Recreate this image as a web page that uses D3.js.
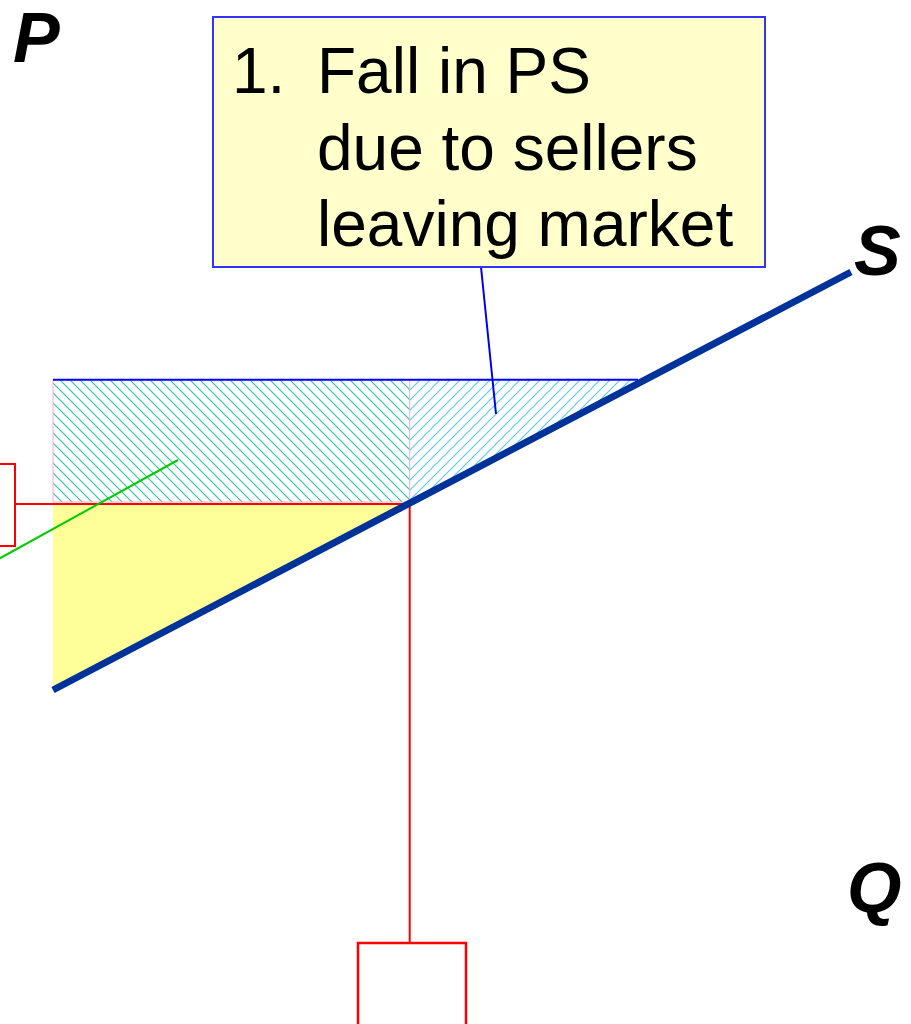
<!DOCTYPE html>
<html>
<head>
<meta charset="utf-8">
<script src="https://cdn.jsdelivr.net/npm/d3@7"></script>
<style>
  body { margin: 0; background: #fff; }
  svg { display: block; }
</style>
</head>
<body>
<div id="chart"></div>
<script>
// supply curve, price levels and quantity (chart units)
const supplyQ = [0, 10];
const supplyP = [0, 10];
const oldPrice = 7.42;
const newPrice = 4.45;
const newQty = 4.47;
const calloutLines = ["Fall in PS", "due to sellers", "leaving market"];
const calloutNumber = "1.";
const axisLabels = {p: "P", q: "Q", s: "S"};

const width = 911, height = 1024;

const svg = d3.select("#chart")
    .append("svg")
    .attr("width", width)
    .attr("height", height);

// scales
const x = d3.scaleLinear().domain([0, 10]).range([53, 851]);
const y = d3.scaleLinear().domain([0, 10]).range([690, 272]);

// hatch patterns
const defs = svg.append("defs");
defs.append("pattern")
    .attr("id", "hatchGreen")
    .attr("patternUnits", "userSpaceOnUse")
    .attr("width", 10).attr("height", 10)
    .append("path")
    .attr("d", "M-1,-1 L11,11 M-6,4 L6,16 M4,-6 L16,6")
    .attr("stroke", "#2cc79f").attr("stroke-width", 1.2);
defs.append("pattern")
    .attr("id", "hatchBlue")
    .attr("patternUnits", "userSpaceOnUse")
    .attr("width", 10).attr("height", 10)
    .append("path")
    .attr("d", "M-1,11 L11,-1 M-6,6 L6,-6 M4,16 L16,4")
    .attr("stroke", "#5ccaf5").attr("stroke-width", 1.2);

// remaining PS (yellow triangle)
svg.append("path")
    .attr("d", d3.line()([[x(0), y(newPrice)], [x(newQty), y(newPrice)], [x(0), y(0)]]) + "Z")
    .attr("fill", "#ffff99");

// fall in PS - rectangle part
svg.append("rect")
    .attr("x", x(0))
    .attr("y", y(oldPrice))
    .attr("width", x(newQty) - x(0))
    .attr("height", y(newPrice) - y(oldPrice) - 2)
    .attr("fill", "url(#hatchGreen)")
    .attr("stroke", "#ffaacc")
    .attr("stroke-width", 1);

// fall in PS - triangle part
svg.append("path")
    .attr("d", d3.line()([[x(newQty), y(oldPrice)], [x(oldPrice), y(oldPrice)], [x(newQty), y(newPrice)]]) + "Z")
    .attr("fill", "url(#hatchBlue)");

// old price line
svg.append("line")
    .attr("x1", x(0)).attr("x2", x(oldPrice) - 7)
    .attr("y1", y(oldPrice)).attr("y2", y(oldPrice))
    .attr("stroke", "#0000ff").attr("stroke-width", 2);

// red price / quantity lines
svg.append("line")
    .attr("x1", 15).attr("x2", x(newQty))
    .attr("y1", y(newPrice)).attr("y2", y(newPrice))
    .attr("stroke", "#ff0000").attr("stroke-width", 2);
svg.append("line")
    .attr("x1", x(newQty)).attr("x2", x(newQty))
    .attr("y1", y(newPrice)).attr("y2", 943)
    .attr("stroke", "#ff0000").attr("stroke-width", 2);

// red label boxes (cut off)
svg.append("rect")
    .attr("x", -10).attr("y", 464)
    .attr("width", 25).attr("height", 82)
    .attr("fill", "none").attr("stroke", "#ff0000").attr("stroke-width", 2);
svg.append("rect")
    .attr("x", 358).attr("y", 943)
    .attr("width", 108).attr("height", 100)
    .attr("fill", "none").attr("stroke", "#ff0000").attr("stroke-width", 2.5);

// green pointer line
svg.append("line")
    .attr("x1", -5).attr("y1", 561)
    .attr("x2", 178).attr("y2", 460)
    .attr("stroke", "#00cc00").attr("stroke-width", 2);

// supply curve
svg.append("path")
    .datum(supplyQ.map((q, i) => [q, supplyP[i]]))
    .attr("d", d3.line().x(d => x(d[0])).y(d => y(d[1])))
    .attr("stroke", "#003399")
    .attr("stroke-width", 7)
    .attr("fill", "none");

// callout pointer
svg.append("line")
    .attr("x1", 481).attr("y1", 267)
    .attr("x2", 496).attr("y2", 414)
    .attr("stroke", "#0000ee").attr("stroke-width", 2);

// callout box
svg.append("rect")
    .attr("x", 213).attr("y", 17)
    .attr("width", 552).attr("height", 250)
    .attr("fill", "#ffffcc")
    .attr("stroke", "#3333ff")
    .attr("stroke-width", 2);

svg.append("text")
    .attr("x", 232).attr("y", 93)
    .attr("font-family", "Liberation Sans, Arial, sans-serif")
    .attr("font-size", "64px")
    .text(calloutNumber);

svg.append("g")
    .selectAll("text")
    .data(calloutLines)
    .join("text")
    .attr("x", 317)
    .attr("y", (d, i) => 93 + i * 76.5)
    .attr("font-family", "Liberation Sans, Arial, sans-serif")
    .attr("font-size", "64px")
    .text(d => d);

// axis labels
const labelFont = "Liberation Sans, Arial, sans-serif";
svg.append("text")
    .attr("x", 13).attr("y", 62)
    .attr("font-family", labelFont).attr("font-size", "70px")
    .attr("font-weight", "bold").attr("font-style", "italic")
    .text(axisLabels.p);
svg.append("text")
    .attr("x", 854).attr("y", 275)
    .attr("font-family", labelFont).attr("font-size", "70px")
    .attr("font-weight", "bold").attr("font-style", "italic")
    .text(axisLabels.s);
svg.append("text")
    .attr("x", 847).attr("y", 912)
    .attr("font-family", labelFont).attr("font-size", "70px")
    .attr("font-weight", "bold").attr("font-style", "italic")
    .text(axisLabels.q);
</script>
</body>
</html>
